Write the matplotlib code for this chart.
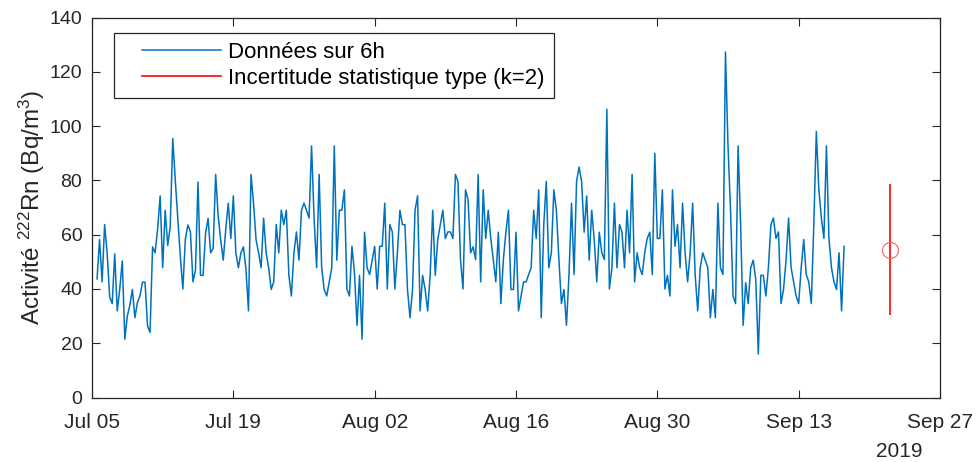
import numpy as np
import pandas as pd
import matplotlib
matplotlib.use("Agg")
import matplotlib.pyplot as plt
import matplotlib.dates as mdates
from matplotlib.lines import Line2D
from matplotlib.legend_handler import HandlerLine2D

plt.rcParams['font.family'] = ['Liberation Sans', 'DejaVu Sans']
plt.rcParams['mathtext.fontset'] = 'custom'
plt.rcParams['mathtext.rm'] = 'Liberation Sans'
plt.rcParams['mathtext.it'] = 'Liberation Sans:italic'

# 6h radon activity (Bq/m3)
activity = [
    43.7, 58.2, 42.6, 63.7, 53.3, 37.0, 34.6, 52.9, 31.9, 40.0, 50.3, 21.5, 30.0, 34.0, 39.8, 29.4,
    35.0, 37.4, 42.5, 42.5, 26.4, 24.0, 55.5, 53.3, 62.0, 74.3, 47.8, 69.0, 56.0, 63.0, 95.4, 80.0,
    66.0, 52.0, 40.0, 58.5, 63.6, 61.0, 42.6, 47.0, 79.4, 45.0, 45.0, 60.5, 66.0, 53.3, 55.0,
    82.2, 66.8, 58.0, 50.6, 62.0, 71.6, 58.6, 74.3, 53.3, 47.8, 53.3, 55.5, 47.2, 31.9, 82.2, 71.6,
    58.2, 53.3, 47.8, 66.1, 53.3, 47.8, 39.8, 42.6, 63.7, 53.3, 69.0, 63.7, 69.0, 45.1, 37.4, 53.3,
    61.0, 50.6, 69.0, 71.6, 69.0, 66.1, 92.7, 66.0, 47.8, 82.2, 47.8, 39.8, 37.4, 42.6, 47.8, 92.7,
    50.6, 69.0, 69.0, 76.5,
    40.0, 37.4, 55.7, 46.0, 26.6, 45.0, 21.5, 60.9, 47.8, 45.3, 50.6, 55.7, 40.0, 55.7, 55.7, 71.6,
    40.0, 63.7, 61.0, 40.0, 53.3, 69.0, 63.7, 63.7, 39.8, 29.4, 39.8, 69.0, 74.3, 31.9, 45.0, 39.8,
    31.9, 45.3, 69.0, 45.0, 58.2, 63.7, 69.0, 58.6, 61.0, 61.0, 58.6, 82.2, 79.6, 50.8, 40.0, 76.5,
    72.9,
    53.3, 55.5, 50.8, 82.2, 42.6, 76.5, 58.6, 69.0, 58.6, 50.8, 42.6, 60.9, 34.6, 50.8, 60.9, 69.0,
    39.8, 39.8, 60.9, 31.9, 37.4, 42.6, 42.6, 45.3, 47.8, 69.0, 58.6, 76.5, 29.4, 63.7, 79.6, 47.8,
    53.3, 76.5, 69.0, 50.8, 34.6, 39.8, 26.6, 45.3, 71.6, 45.3, 79.6, 84.9, 79.6, 60.9, 74.3, 50.6,
    69.0, 58.2, 42.6, 60.9, 53.3, 50.8, 106.2, 40.0, 47.8, 71.6, 47.8, 63.7, 60.9, 47.8, 69.0, 53.3,
    82.2, 42.6, 53.3, 47.8, 45.3, 53.3, 58.6, 60.9, 45.3, 90.0, 58.6, 58.6, 76.5, 40.0, 45.0, 37.4,
    76.5, 55.7, 63.7, 47.8, 71.6, 53.3, 42.6, 53.3, 71.6, 45.0, 31.9, 47.8, 53.3, 50.6, 47.8, 29.4,
    39.8, 29.4,
    71.6, 47.8, 45.3, 127.3, 92.7, 69.0, 37.4, 34.6, 92.7, 63.7, 26.6, 42.3, 34.6, 47.8, 50.6, 43.5,
    16.0, 45.0, 45.0, 37.4, 47.8, 63.7, 66.1, 58.6, 61.0, 34.6, 39.8, 50.6, 66.1, 47.8, 42.6, 37.4,
    34.6, 47.8, 58.2, 45.3, 42.6, 34.6, 63.7, 98.0, 76.5, 66.1, 58.6, 92.7, 58.6, 47.8, 42.6, 39.8,
    53.3, 31.9, 55.7,
]
times = pd.date_range("2019-07-05 12:00", periods=len(activity), freq="6h")

# typical statistical uncertainty (k=2)
err_date = pd.Timestamp("2019-09-22")
err_center = 54.4
err_half = 24.1

labels = ["Données sur 6h", "Incertitude statistique type (k=2)"]
tick_dates = pd.date_range("2019-07-05", "2019-09-27", freq="14D")

blue = "#0072BD"
red = "#FF0000"
axcol = "#262626"


class IndentedLine(HandlerLine2D):
    # legend line drawn only on the right part of the handle box (MATLAB look)
    def create_artists(self, legend, orig, xdescent, ydescent, width, height, fontsize, trans):
        arts = super().create_artists(legend, orig, xdescent, ydescent, width, height,
                                      fontsize, trans)
        for a in arts:
            xd = np.asarray(a.get_xdata(), dtype=float)
            yd = np.asarray(a.get_ydata(), dtype=float)
            if len(xd) > 1:
                x0, x1 = xd.min(), xd.max()
                a.set_data([x0 + 0.2 * (x1 - x0), x1], [yd[0], yd[0]])
        return arts


fig = plt.figure(figsize=(9.77, 4.62), dpi=100)
ax = fig.add_axes([92 / 977, 1 - 397.5 / 462, (940 - 92) / 977, (397.5 - 17.5) / 462])

ax.plot(times, activity, color=blue, lw=1.1)
ax.vlines(err_date, err_center - err_half, err_center + err_half, color=red, lw=1.2)
ax.plot([err_date], [err_center], "o", mfc="none", mec="#FF6060", ms=11.5, mew=0.8)

ax.set_xlim(tick_dates[0], tick_dates[-1])
ax.set_ylim(0, 140)
ax.set_xticks(tick_dates)
ax.xaxis.set_major_formatter(mdates.DateFormatter("%b %d"))
ax.set_yticks(np.arange(0, 141, 20))

ax.tick_params(direction="in", length=6, width=0.8, colors=axcol, labelcolor="#262626",
               top=True, right=True, labelsize=14)
ax.tick_params(axis="x", pad=11, labelsize=15)
ax.tick_params(axis="y", pad=7)
for s in ax.spines.values():
    s.set_color(axcol)
    s.set_linewidth(0.9)

ax.set_ylabel(r"Activité $^{222}$Rn (Bq/m$^{3}$)", fontsize=17.5, color="#262626", labelpad=2)
ax.text(0.979, -0.118, "2019", transform=ax.transAxes, ha="right", va="top",
        fontsize=15, color="#262626")

handles = [Line2D([], [], color=blue, lw=1.1), Line2D([], [], color=red, lw=1.2)]
leg = ax.legend(handles, labels, loc="upper left", bbox_to_anchor=(0.026, 0.96),
                fontsize=16, handlelength=4.4, handletextpad=0.35, borderpad=0.4,
                labelspacing=0.25, fancybox=False, framealpha=1, borderaxespad=0,
                handler_map={Line2D: IndentedLine()})
leg.get_frame().set_edgecolor("#262626")
leg.get_frame().set_linewidth(0.9)

fig.savefig("out.png", dpi=100)
